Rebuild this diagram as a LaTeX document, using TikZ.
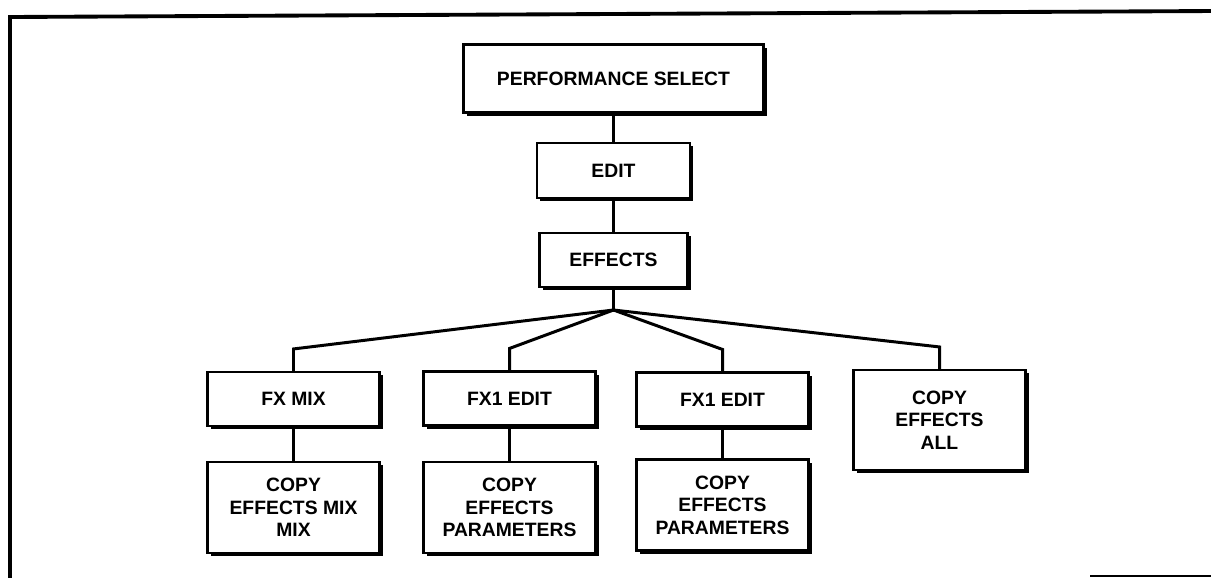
\documentclass[tikz,border=0pt]{standalone}
\usepackage{fontspec}
\setmainfont{Liberation Sans}
\usetikzlibrary{positioning,shadows}

\begin{document}
\begin{tikzpicture}[
  menu/.style = {draw, fill=white, line width=1.2pt, align=center,
                 font=\fontsize{11}{12.8}\selectfont\bfseries,
                 minimum width=3.44cm, minimum height=1.08cm, inner sep=2pt,
                 drop shadow={fill=black, opacity=1,
                              shadow xshift=1.8pt, shadow yshift=-1.8pt}},
  tall/.style = {menu, minimum height=1.82cm},
  link/.style = {line width=1.7pt, line join=miter},
  frame/.style= {line width=2.2pt}
]
\useasboundingbox (0,0) rectangle (24.22,-11.54);

%% ---- page frame --------------------------------------------------------
\draw[frame] (0.2,-11.6) -- (0.2,-0.34) -- (24.3,-0.22);
\draw[line width=0.8pt] (21.8,-11.52) -- (24.3,-11.52);

%% ---- main chain ----------------------------------------------------------
\node[menu, minimum width=6.0cm, minimum height=1.36cm] (perf) at (12.27,-1.57)
  {PERFORMANCE SELECT};
\node[menu, minimum width=3.06cm, minimum height=1.1cm] (edit) at (12.27,-3.41)
  {EDIT};
\node[menu, minimum width=2.96cm] (effects) at (12.27,-5.2)
  {EFFECTS};
\coordinate (hub) at (12.27,-6.2);

%% ---- effects sub-menus -------------------------------------------------
\node[menu] (fxmix)   at (5.87,-7.98)  {FX MIX};
\node[menu] (fxedita) at (10.19,-7.97) {FX1 EDIT};
\node[menu] (fxeditb) at (14.45,-7.99) {FX1 EDIT};
\node[menu, minimum height=2.0cm] (copyall) at (18.79,-8.4)
  {COPY\\EFFECTS\\ALL};

\node[tall] (copymix)  at (5.87,-10.15)  {COPY\\EFFECTS MIX\\MIX};
\node[tall] (copypara) at (10.19,-10.15) {COPY\\EFFECTS\\PARAMETERS};
\node[tall] (copyparb) at (14.45,-10.1)  {COPY\\EFFECTS\\PARAMETERS};

%% ---- connectors ----------------------------------------------------------
\draw[link] (perf) -- (edit);
\draw[link] (edit) -- (effects);
\draw[link] (effects) -- (hub);
\foreach \kid in {fxmix, fxedita, fxeditb, copyall}
  \draw[link] (hub) -- ([yshift=0.44cm]\kid.north) -- (\kid.north);
\draw[link] (fxmix) -- (copymix);
\draw[link] (fxedita) -- (copypara);
\draw[link] (fxeditb) -- (copyparb);

\end{tikzpicture}
\end{document}
